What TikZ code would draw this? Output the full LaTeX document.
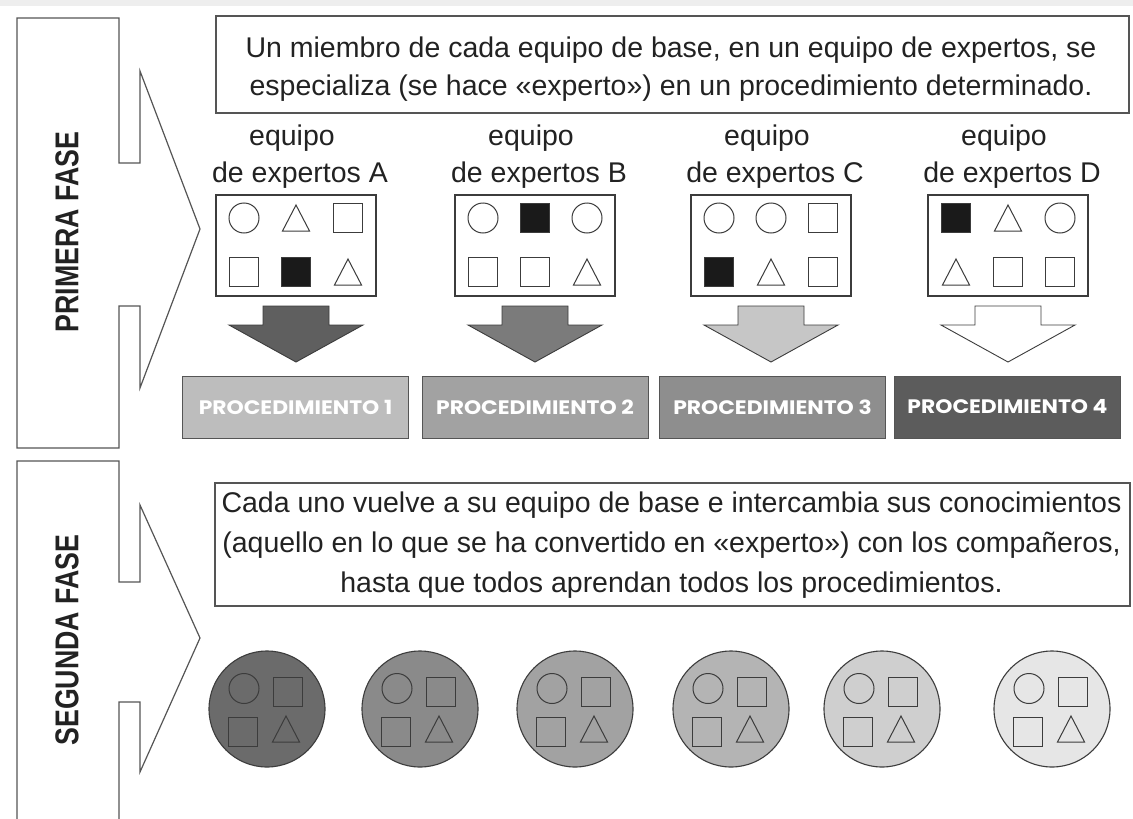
\documentclass[tikz,border=0pt]{standalone}
\usepackage{fontspec}
\setmainfont{Liberation Sans}
\newfontfamily\procfont{Poppins}
\definecolor{ink}{HTML}{222222}
\definecolor{edge}{HTML}{555555}
\definecolor{shpline}{HTML}{3C3C3C}
\definecolor{blk}{HTML}{1A1A1A}
\definecolor{topband}{HTML}{EEEEEE}
\definecolor{arrA}{HTML}{5F5F5F}
\definecolor{arrB}{HTML}{7B7B7B}
\definecolor{arrC}{HTML}{C6C6C6}
\definecolor{barA}{HTML}{BDBDBD}
\definecolor{barB}{HTML}{A2A2A2}
\definecolor{barC}{HTML}{8E8E8E}
\definecolor{barD}{HTML}{5C5C5C}
\definecolor{gA}{HTML}{6B6B6B}
\definecolor{gB}{HTML}{8A8A8A}
\definecolor{gC}{HTML}{A2A2A2}
\definecolor{gD}{HTML}{B4B4B4}
\definecolor{gE}{HTML}{CFCFCF}
\definecolor{gF}{HTML}{E6E6E6}
\tikzset{
  phase/.style={draw=edge, line width=1.2pt, line join=miter},
  phaselabel/.style={rotate=90, text=ink, font=\fontsize{33}{36}\selectfont\bfseries, inner sep=0pt},
  textbox/.style={draw=edge, line width=1.2pt, inner sep=0pt, fill=white},
  txt/.style={text=ink, font=\fontsize{28.5}{40}\selectfont, inner sep=0pt},
  ebox/.style={draw=shpline, line width=1.1pt, fill=white, minimum width=160, minimum height=101, inner sep=0pt},
  shpstroke/.style={draw=shpline, line width=1pt},
  arrowshape/.style={draw=shpline, line width=0.9pt, line join=miter},
  bar/.style={draw=edge, line width=0.6pt, minimum width=226, minimum height=62, inner sep=0pt, text=white, font=\procfont\bfseries\fontsize{19.5}{21}\selectfont},
  team/.style={circle, draw=shpline, line width=1.1pt, minimum size=116, inner sep=0pt},
  pics/cir/.style={code={\draw[shpstroke] (0,0) circle[radius=15];}},
  pics/sq/.style={code={\draw[shpstroke] (-14.5,-14.5) rectangle (14.5,14.5);}},
  pics/sqb/.style={code={\draw[shpstroke, fill=blk] (-14.5,-14.5) rectangle (14.5,14.5);}},
  pics/tri/.style={code={\draw[shpstroke, line join=miter] (-13.5,13) -- (0,-13) -- (13.5,13) -- cycle;}},
}
\begin{document}
\begin{tikzpicture}[x=1pt,y=-1pt]
\useasboundingbox (0,0) rectangle (1133,819);
\fill[white] (0,0) rectangle (1133,819);
\fill[topband] (0,0) rectangle (1133,6);

% phase arrows
\draw[phase] (17,18) -- (119,18) -- (119,163) -- (140,163) -- (140,71) -- (200,229) -- (140,388) -- (140,306) -- (119,306) -- (119,448) -- (17,448) -- cycle;
\node[phaselabel] (ph1) at (67,232) {\scalebox{0.81}[1]{PRIMERA FASE}};
\draw[phase] (17,825) -- (17,461) -- (119,461) -- (119,582) -- (140,582) -- (140,505) -- (200,638) -- (140,772) -- (140,702) -- (119,702) -- (119,825);
\node[phaselabel] (ph2) at (67,640) {\scalebox{0.81}[1]{SEGUNDA FASE}};

% top text box
\node[textbox, minimum width=913, minimum height=97] (intro) at (672.5,64.5) {};
\node[txt, anchor=base] (intro1) at (671,57) {Un miembro de cada equipo de base, en un equipo de expertos, se};
\node[txt, anchor=base] (intro2) at (671,95) {especializa (se hace «experto») en un procedimiento determinado.};

% expert teams
\foreach \k/\cx/\sa/\sb/\sc/\sd/\se/\sf/\af in {A/296/cir/tri/sq/sq/sqb/tri/arrA, B/535/cir/sqb/cir/sq/sq/tri/arrB, C/771/cir/cir/sq/sqb/tri/sq/arrC, D/1008/sqb/tri/cir/tri/sq/sq/white}{
  \node[txt, anchor=base] (eq\k) at (\cx-4,145) {equipo};
  \node[txt, anchor=base] (de\k) at (\cx+4,182) {de expertos \k};
  \node[ebox] (box\k) at (\cx,245.5) {};
  \pic at (\cx-52,218) {\sa};
  \pic at (\cx,218) {\sb};
  \pic at (\cx+52,218) {\sc};
  \pic at (\cx-52,272) {\sd};
  \pic at (\cx,272) {\se};
  \pic at (\cx+52,272) {\sf};
  \draw[arrowshape, fill=\af] (\cx-33,306) -- (\cx+33,306) -- (\cx+33,325) -- (\cx+67,325) -- (\cx,362) -- (\cx-67,325) -- (\cx-33,325) -- cycle;
}

% procedures
\foreach \i/\cx/\col in {1/295.5/barA, 2/535/barB, 3/772.5/barC, 4/1007.5/barD}{
  \node[bar, fill=\col] (proc\i) at (\cx,407) {\scalebox{1.12}[1]{PROCEDIMIENTO \i}};
}

% second text box
\node[textbox, minimum width=915, minimum height=123] (back) at (672.5,544.5) {};
\node[txt, anchor=base] (back1) at (671.5,512) {Cada uno vuelve a su equipo de base e intercambia sus conocimientos};
\node[txt, anchor=base] (back2) at (671.5,552) {(aquello en lo que se ha convertido en «experto») con los compañeros,};
\node[txt, anchor=base] (back3) at (671.5,592) {hasta que todos aprendan todos los procedimientos.};

% base teams
\foreach \i/\cx/\col in {1/267/gA, 2/420/gB, 3/575/gC, 4/731/gD, 5/882/gE, 6/1052/gF}{
  \node[team, fill=\col] (team\i) at (\cx,709) {};
  \pic at (\cx-23,688.5) {cir};
  \pic at (\cx+20.5,692) {sq};
  \pic at (\cx-24,731.5) {sq};
  \pic at (\cx+19,729) {tri};
}
\end{tikzpicture}
\end{document}
